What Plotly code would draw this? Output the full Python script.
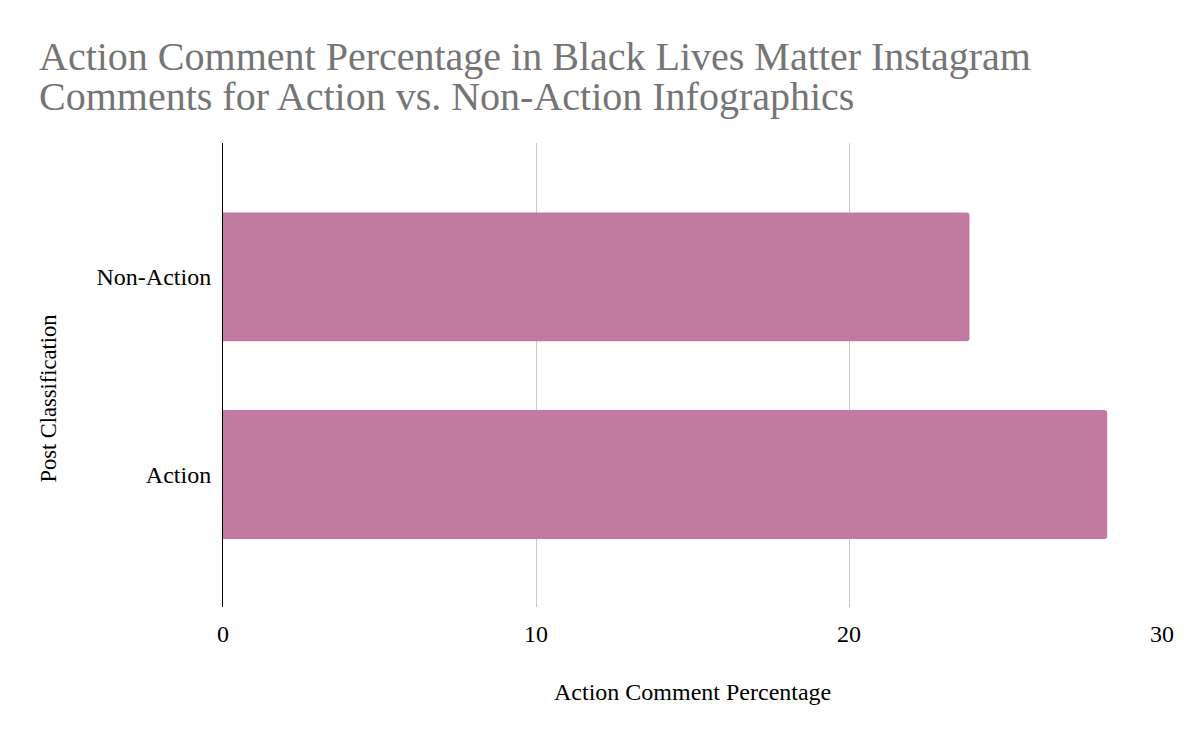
import plotly.graph_objects as go

# values
categories = ["Action", "Non-Action"]
action_pct = [28.25, 23.85]
x_ticks = [0, 10, 20, 30]

title_lines = [
    "Action Comment Percentage in Black Lives Matter Instagram",
    "Comments for Action vs. Non-Action Infographics",
]

FONT = "Liberation Serif, Times New Roman, serif"
BAR_COLOR = "#c27ba0"

fig = go.Figure(
    go.Bar(
        x=action_pct,
        y=categories,
        orientation="h",
        marker=dict(color=BAR_COLOR, line=dict(width=0), cornerradius=3),
        hoverinfo="x+y",
    )
)

# the page body adds an 8px offset, so margins are shifted to compensate
fig.update_layout(
    width=1200,
    height=742,
    margin=dict(l=215, r=46, t=135, b=143),
    paper_bgcolor="white",
    plot_bgcolor="white",
    font=dict(family=FONT, size=24, color="#000000"),
    bargap=0.348,
    showlegend=False,
)

fig.update_xaxes(
    range=[0, 30],
    tickvals=x_ticks,
    showgrid=True,
    gridcolor="#c8c8c8",
    gridwidth=1.2,
    zeroline=False,
    showline=False,
    ticks="",
    ticklabelstandoff=10,
    tickfont=dict(size=24, color="#000000"),
)

fig.update_yaxes(
    type="category",
    categoryorder="array",
    categoryarray=categories,
    range=[-0.67, 1.677],
    showgrid=False,
    zeroline=False,
    showline=True,
    linecolor="#000000",
    linewidth=1,
    ticks="",
    ticklabelstandoff=6,
    tickfont=dict(size=24, color="#000000"),
)

# chart title (two lines, tighter spacing than plotly's default)
for line, ypos in zip(title_lines, [1.187, 1.100]):
    fig.add_annotation(
        text=line,
        xref="paper", yref="paper",
        x=-0.198, y=ypos,
        xanchor="left", yanchor="middle",
        showarrow=False,
        font=dict(family=FONT, size=40, color="#757575"),
    )

# axis titles
fig.add_annotation(
    text="Action Comment Percentage",
    xref="paper", yref="paper",
    x=0.5, y=-0.183,
    xanchor="center", yanchor="middle",
    showarrow=False,
    font=dict(family=FONT, size=24, color="#000000"),
)
fig.add_annotation(
    text="Post Classification",
    xref="paper", yref="paper",
    x=-0.186, y=0.45,
    xanchor="center", yanchor="middle",
    textangle=-90,
    showarrow=False,
    font=dict(family=FONT, size=22.5, color="#000000"),
)

fig.write_html("out.html")
